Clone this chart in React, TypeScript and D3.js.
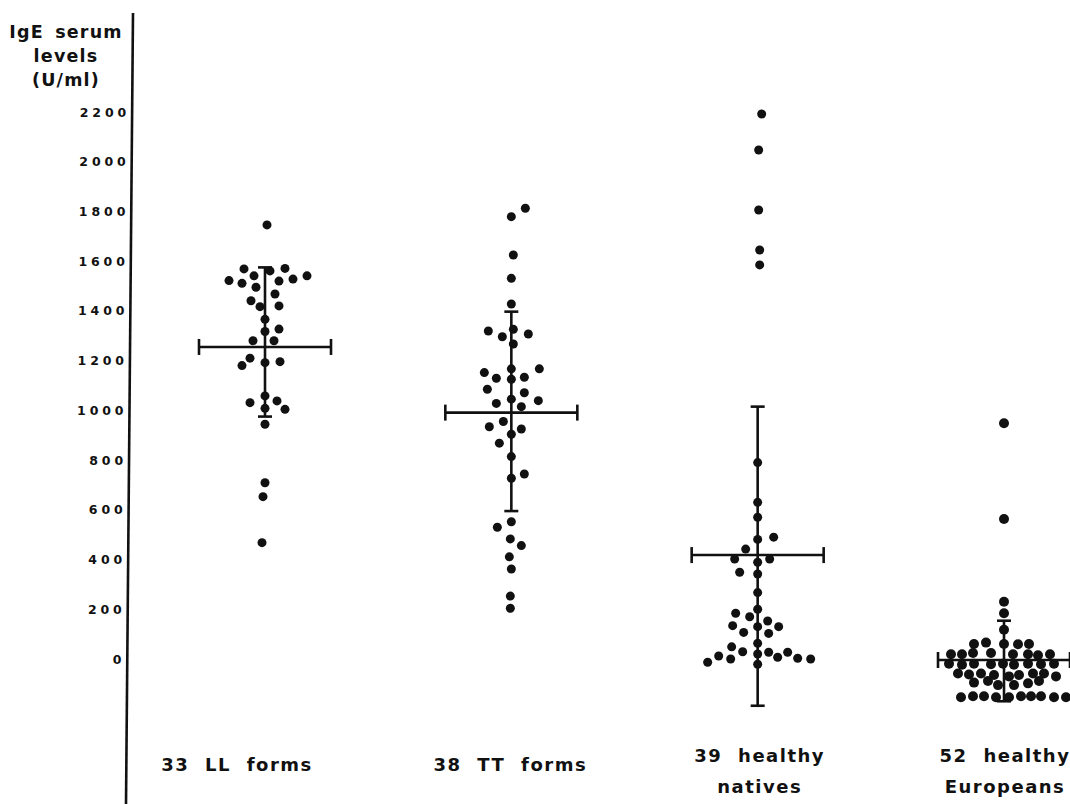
import React from "react";
import * as d3 from "d3";

// ---- Data ----
const groups = ["LL", "TT", "natives", "Europeans"];
const groupLabelLines = [["33 LL forms"], ["38 TT forms"], ["39 healthy", "natives"], ["52 healthy", "Europeans"]];
const yTicks = [0, 200, 400, 600, 800, 1000, 1200, 1400, 1600, 1800, 2000, 2200];
const titleLines = ["IgE serum", "levels", "(U/ml)"];

// mean and ±SD limits (U/ml)
const groupMeans = [1255, 991, 418, -4];
const groupUpper = [1575, 1397, 1015, 154];
const groupLower = [975, 595, -188, -170];

// individual values (U/ml) and their lane in the dot column
const llValues = [1746, 1569, 1541, 1561, 1571, 1522, 1511, 1520, 1528, 1541, 1495, 1468, 1441, 1417, 1420, 1366, 1317, 1327, 1280, 1280, 1210, 1180, 1192, 1196, 1058, 1031, 1038, 1008, 1004, 944, 709, 653, 468];
const llLanes = [0.2, -2.1, -1.1, 0.5, 2.0, -3.6, -2.3, 1.4, 2.8, 4.2, -0.9, 1.0, -1.4, -0.5, 1.4, 0, 0, 1.4, -1.2, 0.9, -1.5, -2.3, 0, 1.5, 0, -1.5, 1.2, 0, 2.0, 0, 0, -0.2, -0.3];

const ttValues = [1813, 1779, 1625, 1531, 1428, 1326, 1319, 1296, 1307, 1267, 1167, 1167, 1152, 1129, 1125, 1133, 1085, 1071, 1045, 1039, 1028, 1015, 955, 934, 925, 904, 868, 814, 727, 744, 552, 530, 483, 456, 411, 362, 253, 204];
const ttLanes = [1.4, 0, 0.2, 0, 0, 0.2, -2.3, -0.9, 1.7, 0.2, 0, 2.8, -2.7, -1.5, 0, 1.3, -2.4, 1.3, 0, 2.7, -1.5, 1.0, -0.8, -2.2, 1.0, 0, -1.2, 0, 0, 1.3, 0, -1.4, -0.1, 1.0, -0.2, 0, -0.1, -0.1];

const nativesValues = [2192, 2047, 1806, 1645, 1585, 790, 630, 570, 481, 490, 442, 402, 402, 389, 349, 342, 267, 200, 184, 170, 134, 130, 153, 130, 107, 103, 63, 49, 29, 20, 27, 27, 12, 0, -13, 7, 3, 0, -21];
const nativesLanes = [0.4, 0.1, 0.1, 0.2, 0.2, 0, 0, 0, 0, 1.6, -1.2, -2.3, 1.2, 0, -1.8, 0, 0, 0, -2.2, -0.8, -2.5, 0, 1.0, 2.1, -1.4, 1.1, 0, -2.6, -1.5, 0, 1.1, 3.0, -3.9, -2.7, -5.0, 2.0, 4.0, 5.3, 0];

const europeansValues = [948, 563, 230, 184, 118,
  60, 66, 60, 59, 60,
  19, 19, 24, 24, 19, 19, 15, 19,
  -19, -23, -19, -21, -19, -23, -19, -21, -19,
  -58, -62, -58, -64, -70, -64, -58, -58, -70,
  -95, -88, -105, -105, -98, -88,
  -154, -150, -150, -154, -154, -150, -150, -150, -154, -154];
const europeansLanes = [0, 0, 0, 0, 0,
  -3.0, -1.8, 0, 1.4, 2.5,
  -5.3, -4.2, -3.1, -1.3, 0.9, 2.4, 3.4, 4.6,
  -5.5, -4.2, -3.0, -1.3, -0.1, 1.0, 2.4, 3.7, 5.0,
  -4.6, -3.5, -2.3, -1.0, 0.5, 1.5, 2.9, 4.0, 5.2,
  -3.0, -1.6, -0.6, 1.0, 2.4, 3.5,
  -4.3, -3.1, -2.0, -0.8, 0.5, 1.7, 2.7, 3.7, 5.0, 6.2];

const groupValues = [llValues, ttValues, nativesValues, europeansValues];
const groupLanes = [llLanes, ttLanes, nativesLanes, europeansLanes];

// ---- Layout / style ----
const W = 1070;
const H = 804;
const FONT = "'DejaVu Sans', 'Liberation Sans', sans-serif";
const INK = "#111";
const labelShift = [-28, -1, 2, 1];
const dotRadius = [4.5, 4.5, 4.5, 5];

export default function App() {
  const y = d3.scaleLinear().domain([0, 2200]).range([659, 112]);
  const x = d3.scalePoint<string>().domain(groups).range([265, 1004]);
  const lane = d3.scaleLinear().domain([-1, 1]).range([-10, 10]);
  // scanned axis is very slightly tilted
  const axisTop = 13;
  const axisX = d3.scaleLinear().domain([axisTop, H]).range([133, 126]);

  const meanHalf = 66;
  const capHalfV = 7;
  const capHalfH = 8;

  return (
    <svg
      width={W}
      height={H}
      viewBox={`0 0 ${W} ${H}`}
      style={{ position: "absolute", left: 0, top: 0, background: "#fff", display: "block" }}
    >
      <rect x={0} y={0} width={W} height={H} fill="#fff" />
      {/* y axis line */}
      <line x1={axisX(axisTop)} y1={axisTop} x2={axisX(H)} y2={H} stroke={INK} strokeWidth={2.6} />

      {/* title */}
      {titleLines.map((t, i) => (
        <text
          key={t}
          x={66}
          y={38 + i * 24}
          textAnchor="middle"
          fontFamily={FONT}
          fontWeight="bold"
          fontSize={17.5}
          letterSpacing={1.2}
          wordSpacing={4}
          fill={INK}
        >
          {t}
        </text>
      ))}

      {/* tick labels */}
      {yTicks.map((t) => (
        <text
          key={t}
          x={axisX(y(t)) - 2}
          y={y(t)}
          dy="0.36em"
          textAnchor="end"
          fontFamily={FONT}
          fontWeight="bold"
          fontSize={12.5}
          letterSpacing={3.9}
          fill={INK}
        >
          {t}
        </text>
      ))}

      {/* groups */}
      {groups.map((g, gi) => {
        const cx = x(g) as number;
        const yMean = y(groupMeans[gi]);
        const yUp = y(groupUpper[gi]);
        const yLo = y(groupLower[gi]);
        return (
          <g key={g}>
            {groupValues[gi].map((v, i) => (
              <circle key={i} cx={cx + lane(groupLanes[gi][i])} cy={y(v)} r={dotRadius[gi]} fill={INK} />
            ))}
            <g stroke={INK} strokeWidth={2.6} fill="none">
              <line x1={cx} y1={yUp} x2={cx} y2={yLo} />
              <line x1={cx - capHalfV} y1={yUp} x2={cx + capHalfV} y2={yUp} />
              <line x1={cx - capHalfV} y1={yLo} x2={cx + capHalfV} y2={yLo} />
              <line x1={cx - meanHalf} y1={yMean} x2={cx + meanHalf} y2={yMean} />
              <line x1={cx - meanHalf} y1={yMean - capHalfH} x2={cx - meanHalf} y2={yMean + capHalfH} />
              <line x1={cx + meanHalf} y1={yMean - capHalfH} x2={cx + meanHalf} y2={yMean + capHalfH} />
            </g>
            {groupLabelLines[gi].map((line, li) => (
              <text
                key={line}
                x={cx + labelShift[gi]}
                y={groupLabelLines[gi].length === 1 ? 771 : 762 + li * 31}
                textAnchor="middle"
                fontFamily={FONT}
                fontWeight="bold"
                fontSize={18}
                letterSpacing={1.5}
                wordSpacing={8}
                fill={INK}
              >
                {line}
              </text>
            ))}
          </g>
        );
      })}
    </svg>
  );
}
